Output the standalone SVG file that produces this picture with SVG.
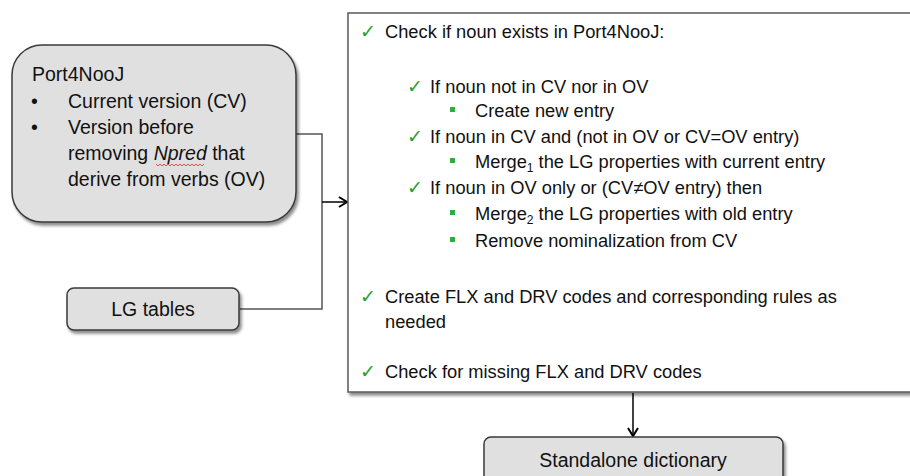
<svg xmlns="http://www.w3.org/2000/svg" width="910" height="476" viewBox="0 0 910 476">
<defs>
<filter id="sh" x="-10%" y="-10%" width="130%" height="140%">
<feDropShadow dx="2" dy="3" stdDeviation="1.5" flood-color="#000" flood-opacity="0.45"/>
</filter>
<marker id="arr" markerWidth="12" markerHeight="12" refX="10" refY="6" orient="auto" markerUnits="userSpaceOnUse">
<path d="M2,1 L10,6 L2,11" fill="none" stroke="#000" stroke-width="2"/>
</marker>
<style>
.box{fill:#e0e0e0;stroke:#3a3a3a;stroke-width:1.5}
.main{fill:#fff;stroke:#5a5a5a;stroke-width:1.5}
.t{font-family:"Liberation Sans",Arial,sans-serif;fill:#111}
.l{font-size:19.5px}
.m{font-size:18.3px}
.ck{fill:#2a9d2a;font-family:"DejaVu Sans",sans-serif;font-size:19px;font-weight:bold}
.sq{fill:#2eae3a}
.conn{fill:none;stroke:#555;stroke-width:1.5}
.arrow{fill:none;stroke:#000;stroke-width:1.5}
</style>
</defs>
<g id="connectors">
<polyline class="conn" points="296,134 322,134 322,309 240,309"/>
<line class="arrow" x1="322" y1="202" x2="347" y2="202" marker-end="url(#arr)"/>
<line class="arrow" x1="633" y1="393" x2="633" y2="436" marker-end="url(#arr)"/>
</g>
<g id="port4nooj">
<rect class="box" x="12" y="45" width="284" height="177" rx="30" ry="30" filter="url(#sh)"/>
<text class="t l" x="32" y="81">Port4NooJ</text>
<text class="t l" x="31" y="108">•</text>
<text class="t l" x="68" y="108">Current version (CV)</text>
<text class="t l" x="31" y="134">•</text>
<text class="t l" x="68" y="134">Version before</text>
<text class="t l" x="68" y="160">removing <tspan font-style="italic">Npred</tspan> that</text>
<path d="M156,164 l2,2 l2,-2 l2,2 l2,-2 l2,2 l2,-2 l2,2 l2,-2 l2,2 l2,-2 l2,2 l2,-2 l2,2 l2,-2 l2,2 l2,-2 l2,2 l2,-2 l2,2 l2,-2 l2,2 l2,-2 l2,2 l2,-2" fill="none" stroke="#e03030" stroke-width="0.8"/>
<text class="t l" x="68" y="186">derive from verbs (OV)</text>
</g>
<g id="lgtables">
<rect class="box" x="67" y="288" width="172" height="42" rx="7" ry="7" filter="url(#sh)"/>
<text class="t l" x="153" y="316" text-anchor="middle">LG tables</text>
</g>
<g id="process">
<rect class="main" x="348" y="13" width="580" height="379" filter="url(#sh)"/>
<text class="ck" x="360" y="38">✓</text>
<text class="t m" x="385" y="38">Check if noun exists in Port4NooJ:</text>
<text class="ck" x="407" y="93">✓</text>
<text class="t m" x="430" y="93">If noun not in CV nor in OV</text>
<rect class="sq" x="450" y="107" width="5" height="5"/>
<text class="t m" x="475" y="117">Create new entry</text>
<text class="ck" x="407" y="143">✓</text>
<text class="t m" x="430" y="143">If noun in CV and (not in OV or CV=OV entry)</text>
<rect class="sq" x="450" y="158" width="5" height="5"/>
<text class="t m" x="475" y="168">Merge<tspan font-size="12" dy="4">1</tspan><tspan dy="-4"> the LG properties with current entry</tspan></text>
<text class="ck" x="407" y="194">✓</text>
<text class="t m" x="430" y="194">If noun in OV only or (CV≠OV entry) then</text>
<rect class="sq" x="450" y="210" width="5" height="5"/>
<text class="t m" x="475" y="220">Merge<tspan font-size="12" dy="4">2</tspan><tspan dy="-4"> the LG properties with old entry</tspan></text>
<rect class="sq" x="450" y="237" width="5" height="5"/>
<text class="t m" x="475" y="247">Remove nominalization from CV</text>
<text class="ck" x="360" y="303">✓</text>
<text class="t m" x="385" y="303">Create FLX and DRV codes and corresponding rules as</text>
<text class="t m" x="385" y="328">needed</text>
<text class="ck" x="360" y="378">✓</text>
<text class="t m" x="385" y="378">Check for missing FLX and DRV codes</text>
</g>
<g id="standalone">
<rect class="box" x="484" y="437" width="299" height="50" rx="7" ry="7" filter="url(#sh)"/>
<text class="t l" x="633" y="467" text-anchor="middle">Standalone dictionary</text>
</g>
</svg>
